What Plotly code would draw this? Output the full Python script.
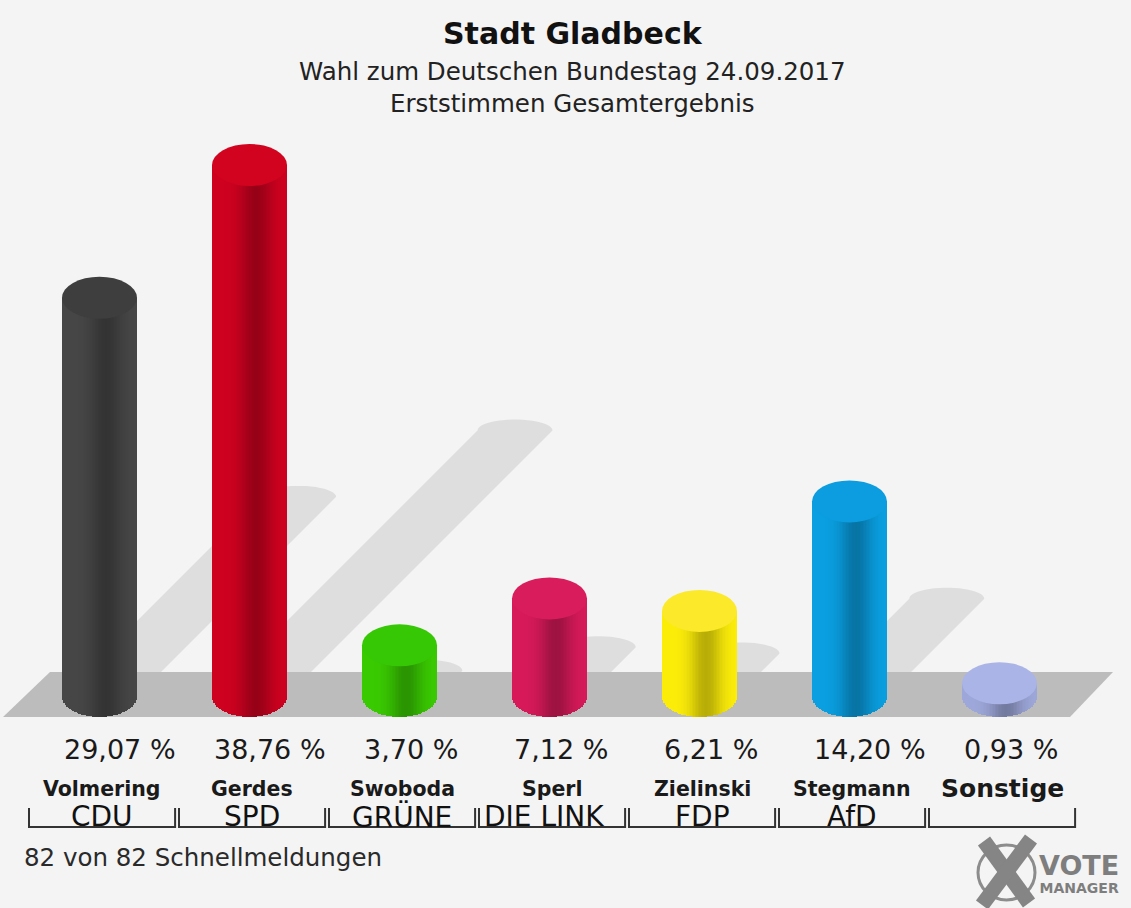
import numpy as np
import plotly.graph_objects as go

# ---------------- data ----------------
parties = ["CDU", "SPD", "GRÜNE", "DIE LINK", "FDP", "AfD", ""]
candidates = ["Volmering", "Gerdes", "Swoboda", "Sperl", "Zielinski", "Stegmann", "Sonstige"]
values = [29.07, 38.76, 3.70, 7.12, 6.21, 14.20, 0.93]
value_labels = ["29,07 %", "38,76 %", "3,70 %", "7,12 %", "6,21 %", "14,20 %", "0,93 %"]
side_colors = ["#474747", "#cf0220", "#3acb02", "#d81a5a", "#fdee0a", "#0aa0e2", "#9ea8da"]
top_colors = ["#3e3e3e", "#d2031f", "#36c805", "#d81c5c", "#fbe92a", "#0b9de0", "#aab4e6"]

title = "Stadt Gladbeck"
subtitle1 = "Wahl zum Deutschen Bundestag 24.09.2017"
subtitle2 = "Erststimmen Gesamtergebnis"
footer = "82 von 82 Schnellmeldungen"

# ---------------- geometry ----------------
FW, FH = 1131, 908
PX_PER_X = 150.0      # pixels per category step
PX_PER_Y = 13.7       # pixels per percent
X0_PX = 99.5          # pixel of category 0
Y0_PX = 696.0         # pixel of value 0
BAR_W = 0.5
RX = BAR_W / 2
RY = 21.0 / PX_PER_Y
FONT = "DejaVu Sans"


def dx(px):
    return (px - X0_PX) / PX_PER_X


def dy(py):
    return (Y0_PX - py) / PX_PER_Y


def hex_to_rgb(h):
    h = h.lstrip("#")
    return [int(h[i:i + 2], 16) for i in (0, 2, 4)]


def shade(h, f):
    r, g, b = hex_to_rgb(h)
    return "rgb(%d,%d,%d)" % (min(255, r * f), min(255, g * f), min(255, b * f))


n = len(values)
xs = list(range(n))
fig = go.Figure()

# ---------------- cylinder bodies (shaded stripes) ----------------
N = 50
step = BAR_W / N
for k in range(N):
    u = -1 + (2 * k + 1) / N
    f = 1 - 0.27 * np.exp(-((u - 0.18) / 0.42) ** 2)
    depth = RY * np.sqrt(max(0.0, 1 - u * u))
    fig.add_trace(go.Bar(
        x=xs,
        y=[v + depth for v in values],
        base=[-depth] * n,
        width=step + 0.002,
        offset=-RX + k * step,
        marker=dict(color=[shade(c, f) for c in side_colors], line=dict(width=0)),
        hoverinfo="skip",
        showlegend=False,
    ))

shapes = []

# ---------------- shadows ----------------
SH_RY = 11.0 / PX_PER_Y
for i, v in enumerate(values):
    d_px = 0.5 * v * PX_PER_Y
    ox = d_px / PX_PER_X
    oy = d_px / PX_PER_Y
    pts = [(i - RX, 0), (i + RX, 0), (i + RX + ox, oy)]
    for t in np.linspace(0, np.pi, 24):
        pts.append((i + ox + RX * np.cos(t), oy + SH_RY * np.sin(t)))
    pts.append((i - RX + ox, oy))
    path = "M " + " L ".join("%.4f,%.4f" % p for p in pts) + " Z"
    shapes.append(dict(type="path", path=path, xref="x", yref="y", layer="below",
                       fillcolor="#dedede", line=dict(width=0)))

# ---------------- floor ----------------
floor = [(dx(3), dy(717)), (dx(50), dy(672)), (dx(1113), dy(672)), (dx(1070), dy(717))]
shapes.append(dict(type="path", xref="x", yref="y", layer="below",
                   path="M " + " L ".join("%.4f,%.4f" % p for p in floor) + " Z",
                   fillcolor="#bcbcbc", line=dict(width=0)))

# ---------------- cylinder tops ----------------
for i, v in enumerate(values):
    shapes.append(dict(type="circle", xref="x", yref="y", layer="above",
                       x0=i - RX, x1=i + RX, y0=v - RY, y1=v + RY,
                       fillcolor=top_colors[i], line=dict(width=0)))

# ---------------- brackets ----------------
yb_top, yb_bot = dy(808), dy(827)
for i in range(n):
    xl, xr = i + 0.017 - 0.487, i + 0.017 + 0.487
    shapes.append(dict(type="path", xref="x", yref="y", layer="above",
                       path="M %.4f,%.4f L %.4f,%.4f L %.4f,%.4f L %.4f,%.4f" % (
                           xl, yb_top, xl, yb_bot, xr, yb_bot, xr, yb_top),
                       line=dict(color="#333333", width=2)))


# ---------------- logo ----------------
def px(x):
    return x / FW


def py(y):
    return 1 - y / FH


shapes.append(dict(type="circle", xref="paper", yref="paper",
                   x0=px(978), x1=px(1035), y0=py(900), y1=py(845),
                   line=dict(color="#8c8c8c", width=3)))
shapes.append(dict(type="line", xref="paper", yref="paper",
                   x0=px(984), y0=py(841), x1=px(1029), y1=py(903),
                   line=dict(color="#858585", width=15)))
shapes.append(dict(type="line", xref="paper", yref="paper",
                   x0=px(1031), y0=py(839), x1=px(982), y1=py(905),
                   line=dict(color="#858585", width=15)))

annotations = []


def ann(text, x, y, size, xref="paper", yref="paper", xanchor="center", bold=False,
        color="#1e1e1e", yanchor="middle"):
    annotations.append(dict(text=text, x=x, y=y, xref=xref, yref=yref, showarrow=False,
                            xanchor=xanchor, yanchor=yanchor, align="center",
                            font=dict(family=FONT, size=size, color=color,
                                      weight="bold" if bold else "normal")))


ann(title, px(573), py(33), 30, bold=True, color="#111111")
ann(subtitle1, px(572), py(71), 24.5, color="#222222")
ann(subtitle2, px(572), py(103), 24.5, color="#222222")

for i in range(n):
    ann(value_labels[i], i - RX, dy(749), 27, xref="x", yref="y", xanchor="left", color="#1a1a1a")
    if parties[i]:
        ann(candidates[i], i + 0.017, dy(788.5), 20.5, xref="x", yref="y", bold=True, color="#1a1a1a")
        if parties[i] == "DIE LINK":
            ann(parties[i], i + 0.017 - 0.47, dy(816.5), 28, xref="x", yref="y", xanchor="left",
                color="#111111")
        else:
            ann(parties[i], i + 0.017, dy(816.5), 28, xref="x", yref="y", color="#111111")
    else:
        ann(candidates[i], i + 0.017, dy(788), 25, xref="x", yref="y", bold=True, color="#1a1a1a")

ann(footer, px(22), py(857), 24.5, xanchor="left", color="#2a2a2a")
ann("<span style='font-size:27px'>VOTE</span><br>MANAGER", px(1037), py(873), 14,
    xanchor="left", bold=True, color="#7e7e7e")

fig.update_layout(
    width=FW, height=FH,
    margin=dict(l=0, r=0, t=0, b=0),
    paper_bgcolor="#f4f4f4", plot_bgcolor="#f4f4f4",
    barmode="overlay", bargap=0,
    xaxis=dict(range=[dx(0), dx(FW)], visible=False, fixedrange=True),
    yaxis=dict(range=[dy(FH), dy(0)], visible=False, fixedrange=True),
    shapes=shapes, annotations=annotations,
    showlegend=False,
)

fig.write_html("out.html", config={"displayModeBar": False},
               post_script="document.body.style.margin='0px';document.body.style.overflow='hidden';")
